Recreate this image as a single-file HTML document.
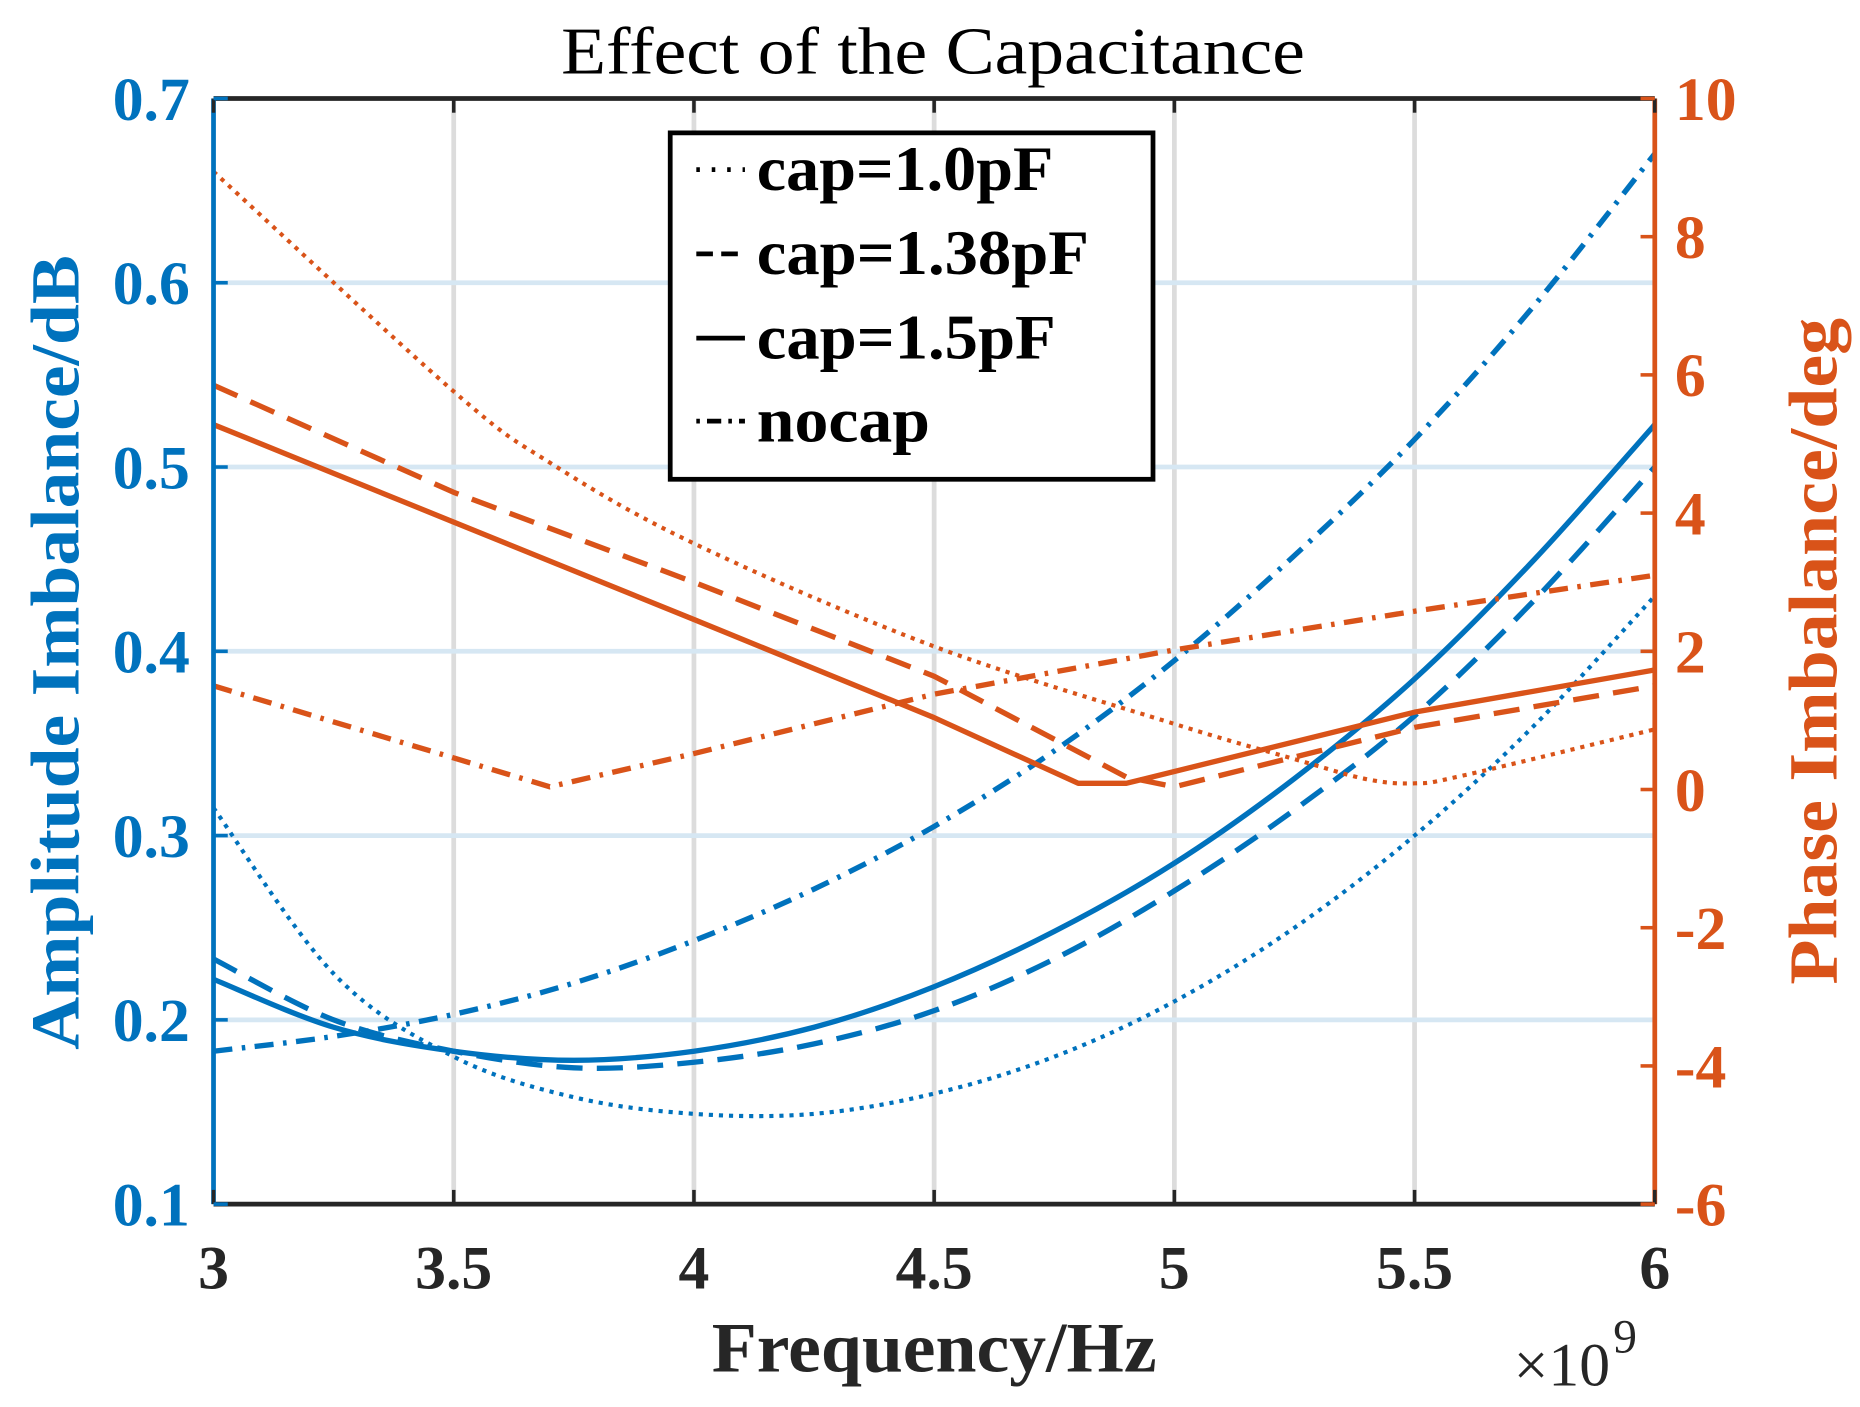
<!DOCTYPE html>
<html><head><meta charset="utf-8"><style>
html,body{margin:0;padding:0;background:#fff;}
svg{display:block;font-family:"Liberation Serif",serif;}
</style></head><body>
<svg id="chart" width="1860" height="1407" viewBox="0 0 1568 1186" preserveAspectRatio="none" xmlns="http://www.w3.org/2000/svg">
<g id="grid"></g>
<g id="series"></g>
<g id="axes"></g>
<g id="labels"></g>
</svg>
<script>
const xs = [3, 3.25, 3.5, 3.75, 4, 4.25, 4.5, 4.75, 5, 5.25, 5.5, 5.75, 6];
const ampNocap = [0.183, 0.191, 0.203, 0.220, 0.243, 0.271, 0.305, 0.346, 0.395, 0.452, 0.515, 0.588, 0.670];
const amp15 = [0.222, 0.196, 0.183, 0.178, 0.183, 0.196, 0.218, 0.248, 0.285, 0.331, 0.385, 0.450, 0.523];
const amp138 = [0.233, 0.200, 0.183, 0.174, 0.177, 0.187, 0.205, 0.233, 0.270, 0.314, 0.365, 0.428, 0.500];
const amp10 = [0.315, 0.225, 0.180, 0.158, 0.149, 0.149, 0.160, 0.180, 0.210, 0.250, 0.300, 0.360, 0.430];
const phX10 = [3, 3.5, 3.7, 4, 4.5, 5, 5.25, 5.4, 5.5, 5.6, 6];
const ph10 = [8.94, 5.76, 4.73, 3.56, 2.07, 0.95, 0.44, 0.15, 0.09, 0.2, 0.87];
const phX138 = [3, 3.5, 4, 4.5, 4.9, 5, 5.5, 6];
const ph138 = [5.85, 4.3, 3.0, 1.64, 0.18, 0.04, 0.9, 1.5];
const phX15 = [3, 3.5, 4, 4.5, 4.8, 4.9, 5.5, 6];
const ph15 = [5.28, 3.87, 2.46, 1.04, 0.09, 0.09, 1.12, 1.73];
const phXNocap = [3, 3.7, 4, 4.5, 5, 5.5, 6];
const phNocap = [1.5, 0.04, 0.52, 1.38, 2.02, 2.58, 3.1];
const xTicks = [3, 3.5, 4, 4.5, 5, 5.5, 6];
const xTickLabels = ["3", "3.5", "4", "4.5", "5", "5.5", "6"];
const yLTicks = [0.1, 0.2, 0.3, 0.4, 0.5, 0.6, 0.7];
const yLTickLabels = ["0.1", "0.2", "0.3", "0.4", "0.5", "0.6", "0.7"];
const yRTicks = [-6, -4, -2, 0, 2, 4, 6, 8, 10];
const yRTickLabels = ["-6", "-4", "-2", "0", "2", "4", "6", "8", "10"];

const L=180,R=1395,T=83,B=1015;
const BLUE="#0072BD",ORANGE="#D95319";
const sx=v=>L+(v-3)/3*(R-L);
const syL=v=>B-(v-0.1)/0.6*(B-T);
const syR=v=>B-(v+6)/16*(B-T);
const NS="http://www.w3.org/2000/svg";
function mk(tag,attrs,parent,text){const e=document.createElementNS(NS,tag);for(const k in attrs)e.setAttribute(k,attrs[k]);if(text!==undefined)e.textContent=text;parent.appendChild(e);return e;}
const grid=document.getElementById('grid'),ser=document.getElementById('series'),axes=document.getElementById('axes'),lab=document.getElementById('labels');

xTicks.forEach(t=>{if(t>3&&t<6){const g=mk('line',{x1:sx(t),x2:sx(t),y1:T,y2:B,stroke:'#dcdcdc','stroke-width':4},grid);

}});
yLTicks.forEach(t=>{if(t>0.1&&t<0.7){const g=mk('line',{x1:L,x2:R,y1:syL(t),y2:syL(t),stroke:'#d6e7f3','stroke-width':4},grid);

}});

const dashes={dot:'3.5 5',dash:'22 12',solid:'none',dashdot:'16 8 3 8'};
function pathD(P,smooth){
  if(!smooth) return P.map((p,i)=>(i?'L':'M')+p[0].toFixed(1)+' '+p[1].toFixed(1)).join(' ');
  let d='M'+P[0][0].toFixed(1)+' '+P[0][1].toFixed(1);
  for(let i=0;i<P.length-1;i++){
    const p0=P[i-1]||P[i],p1=P[i],p2=P[i+1],p3=P[i+2]||P[i+1];
    const c1=[p1[0]+(p2[0]-p0[0])/6,p1[1]+(p2[1]-p0[1])/6];
    const c2=[p2[0]-(p3[0]-p1[0])/6,p2[1]-(p3[1]-p1[1])/6];
    d+=' C'+c1[0].toFixed(1)+' '+c1[1].toFixed(1)+' '+c2[0].toFixed(1)+' '+c2[1].toFixed(1)+' '+p2[0].toFixed(1)+' '+p2[1].toFixed(1);
  }
  return d;
}
function line(xv,yv,sy,color,style,name,smooth){
  const P=xv.map((x,i)=>[sx(x),sy(yv[i])]);
  const p=mk('path',{d:pathD(P,smooth),fill:'none',stroke:color,'stroke-width':style==='dot'?3.5:4.5,'stroke-dasharray':dashes[style],'stroke-linejoin':'round'},ser);
  
  
}
line(xs,ampNocap,syL,BLUE,'dashdot','amp-nocap-line',true);
line(xs,amp15,syL,BLUE,'solid','amp-1-5pf-line',true);
line(xs,amp138,syL,BLUE,'dash','amp-1-38pf-line',true);
line(xs,amp10,syL,BLUE,'dot','amp-1-0pf-line',true);
line(phX10,ph10,syR,ORANGE,'dot','phase-1-0pf-line',true);
line(phX138,ph138,syR,ORANGE,'dash','phase-1-38pf-line',false);
line(phX15,ph15,syR,ORANGE,'solid','phase-1-5pf-line',false);
line(phXNocap,phNocap,syR,ORANGE,'dashdot','phase-nocap-line',false);

mk('line',{x1:L,x2:R,y1:T,y2:T,stroke:'#262626','stroke-width':4},axes);
mk('line',{x1:L,x2:R,y1:B,y2:B,stroke:'#262626','stroke-width':4},axes);
mk('line',{x1:L,x2:L,y1:T,y2:B,stroke:BLUE,'stroke-width':4},axes);
mk('line',{x1:R,x2:R,y1:T,y2:B,stroke:ORANGE,'stroke-width':4},axes);
xTicks.forEach((t,i)=>{
  mk('line',{x1:sx(t),x2:sx(t),y1:B,y2:B-12,stroke:'#262626','stroke-width':3},axes);
  mk('line',{x1:sx(t),x2:sx(t),y1:T,y2:T+12,stroke:'#262626','stroke-width':3},axes);
  const tx=mk('text',{x:sx(t),y:1086,'text-anchor':'middle','font-size':52,'font-weight':'bold',fill:'#262626'},lab,xTickLabels[i]);
  
  
});
yLTicks.forEach((t,i)=>{
  mk('line',{x1:L,x2:L+12,y1:syL(t),y2:syL(t),stroke:BLUE,'stroke-width':3},axes);
  const tx=mk('text',{x:160,y:syL(t)+18,'text-anchor':'end','font-size':52,'font-weight':'bold',fill:BLUE},lab,yLTickLabels[i]);
  
  
});
yRTicks.forEach((t,i)=>{
  mk('line',{x1:R,x2:R-12,y1:syR(t),y2:syR(t),stroke:ORANGE,'stroke-width':3},axes);
  const tx=mk('text',{x:1412,y:syR(t)+18,'text-anchor':'start','font-size':52,'font-weight':'bold',fill:ORANGE},lab,yRTickLabels[i]);
  
  
});
</script>
<script>
(function(){
const NS="http://www.w3.org/2000/svg";const svg=document.getElementById('chart');
function mk(tag,attrs,text){const e=document.createElementNS(NS,tag);for(const k in attrs)e.setAttribute(k,attrs[k]);if(text!==undefined)e.textContent=text;svg.appendChild(e);return e;}
let e;
e=mk('text',{x:473,y:62,'font-size':56,fill:'#000',textLength:627,lengthAdjust:'spacingAndGlyphs'},'Effect of the Capacitance');


e=mk('text',{x:600,y:1156,'font-size':60,'font-weight':'bold',fill:'#262626',textLength:375,lengthAdjust:'spacingAndGlyphs'},'Frequency/Hz');


e=mk('text',{x:1276,y:1168,'font-size':52,fill:'#262626'},'×10');


e=mk('text',{x:1360,y:1140,'font-size':40,fill:'#262626'},'9');


e=mk('text',{x:0,y:0,'font-size':58,'font-weight':'bold',fill:'#0072BD',textLength:670,lengthAdjust:'spacingAndGlyphs',transform:'translate(66,885) rotate(-90)'},'Amplitude Imbalance/dB');


e=mk('text',{x:0,y:0,'font-size':58,'font-weight':'bold',fill:'#D95319',textLength:562,lengthAdjust:'spacingAndGlyphs',transform:'translate(1548,830) rotate(-90)'},'Phase Imbalance/deg');


const g=document.createElementNS(NS,'g');svg.appendChild(g);


function gm(tag,attrs,text){const el=document.createElementNS(NS,tag);for(const k in attrs)el.setAttribute(k,attrs[k]);if(text!==undefined)el.textContent=text;g.appendChild(el);return el;}
gm('rect',{x:565,y:112,width:407,height:292,fill:'#fff',stroke:'#000','stroke-width':4});
const ents=[['cap=1.0pF','3 10',250],['cap=1.38pF','14 7',280],['cap=1.5pF','none',252],['nocap','3 6 12 6',146]];
const ys=[143,214,285,355];
ents.forEach((en,i)=>{
  gm('line',{x1:587,x2:628,y1:ys[i],y2:ys[i],stroke:'#000','stroke-width':4,'stroke-dasharray':en[1]});
  const t=gm('text',{x:638,y:ys[i]+17,'font-size':54,'font-weight':'bold',fill:'#000',textLength:en[2],lengthAdjust:'spacingAndGlyphs'},en[0]);
  
  
});
})();
</script>
</body></html>
